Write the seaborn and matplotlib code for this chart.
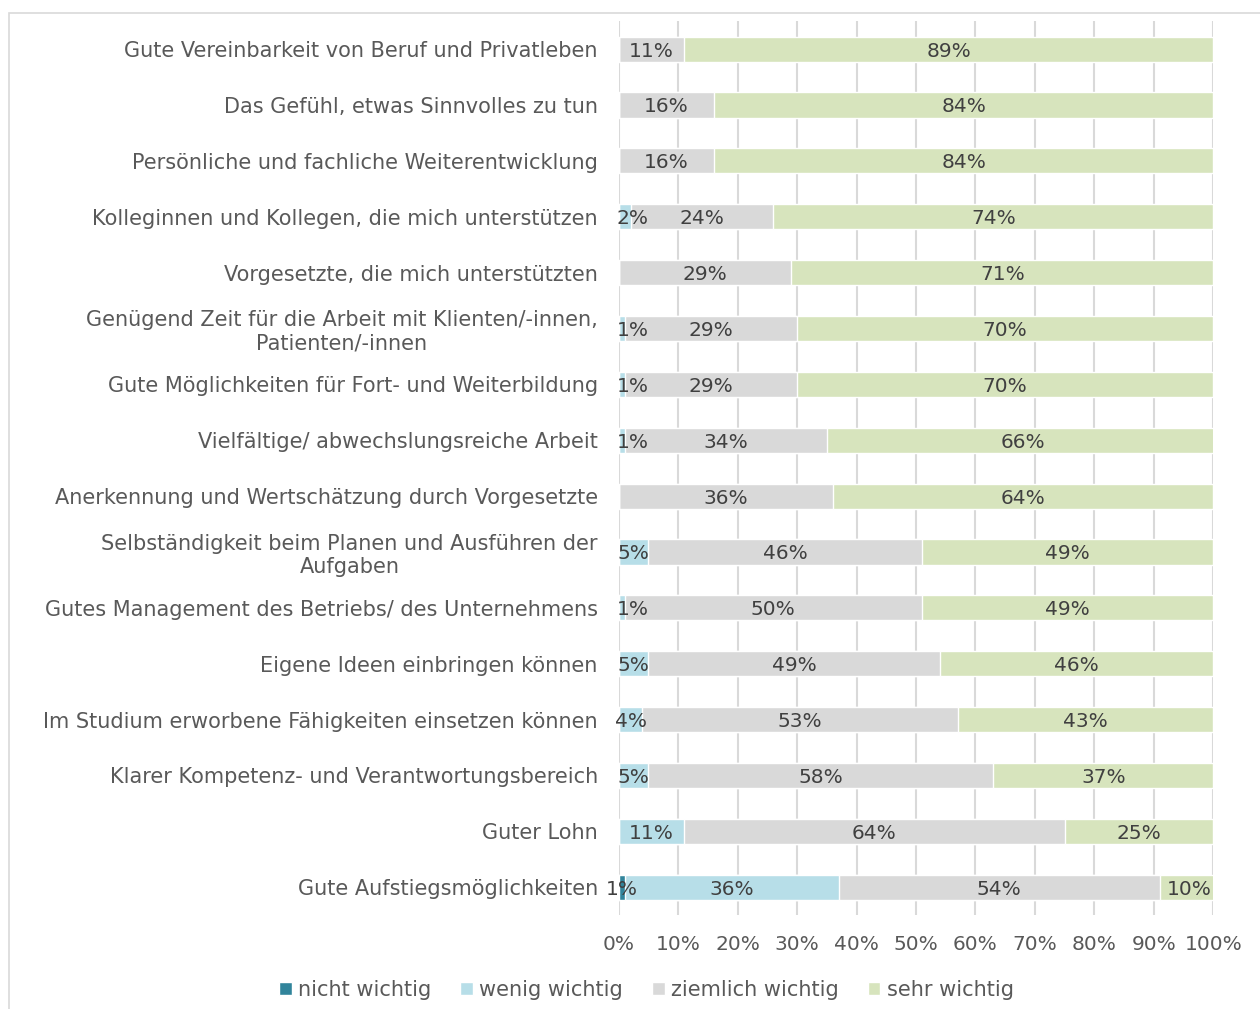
import pandas as pd
import matplotlib.pyplot as plt
import seaborn as sns
from matplotlib.patches import Rectangle

# Werte in Prozent, von oben nach unten
items = [
    "Gute Vereinbarkeit von Beruf und Privatleben",
    "Das Gefühl, etwas Sinnvolles zu tun",
    "Persönliche und fachliche Weiterentwicklung",
    "Kolleginnen und Kollegen, die mich unterstützen",
    "Vorgesetzte, die mich unterstützten",
    "Genügend Zeit für die Arbeit mit Klienten/-innen,\nPatienten/-innen",
    "Gute Möglichkeiten für Fort- und Weiterbildung",
    "Vielfältige/ abwechslungsreiche Arbeit",
    "Anerkennung und Wertschätzung durch Vorgesetzte",
    "Selbständigkeit beim Planen und Ausführen der\nAufgaben",
    "Gutes Management des Betriebs/ des Unternehmens",
    "Eigene Ideen einbringen können",
    "Im Studium erworbene Fähigkeiten einsetzen können",
    "Klarer Kompetenz- und Verantwortungsbereich",
    "Guter Lohn",
    "Gute Aufstiegsmöglichkeiten",
]
nicht_wichtig = [0, 0, 0, 0, 0, 0, 0, 0, 0, 0, 0, 0, 0, 0, 0, 1]
wenig_wichtig = [0, 0, 0, 2, 0, 1, 1, 1, 0, 5, 1, 5, 4, 5, 11, 36]
ziemlich_wichtig = [11, 16, 16, 24, 29, 29, 29, 34, 36, 46, 50, 49, 53, 58, 64, 54]
sehr_wichtig = [89, 84, 84, 74, 71, 70, 70, 66, 64, 49, 49, 46, 43, 37, 25, 10]

series = ["nicht wichtig", "wenig wichtig", "ziemlich wichtig", "sehr wichtig"]
colors = ["#31849B", "#B7DEE8", "#D9D9D9", "#D7E4BD"]
text_col = "#595959"

df = pd.DataFrame({
    "item": items,
    "nicht wichtig": nicht_wichtig,
    "wenig wichtig": wenig_wichtig,
    "ziemlich wichtig": ziemlich_wichtig,
    "sehr wichtig": sehr_wichtig,
})
cum = df[series].cumsum(axis=1)

sns.set_theme(style="white")
plt.rcParams["font.family"] = ["DejaVu Sans"]
fs = 15

fig = plt.figure(figsize=(12.6, 10.09), dpi=100)
ax = fig.add_axes([0.491, 0.093, 0.472, 0.886])

# gestapelte Balken: kumulierte Summen von hinten nach vorne zeichnen
for s, c in reversed(list(zip(series, colors))):
    sns.barplot(data=cum.assign(item=items), x=s, y=items, orient="h",
                color=c, width=0.45, saturation=1, ax=ax, label=s)

# Beschriftung der Segmente (sehr schmale Segmente: linksbündig an der Achse)
for i in range(len(items)):
    left = 0
    for s in series:
        v = df.loc[i, s]
        if v > 0:
            if s == "wenig wichtig" and v <= 2 and left == 0:
                ax.text(-0.3, i, f"{v}%", ha="left", va="center_baseline",
                        fontsize=fs - 0.5, color="#404040")
            else:
                ax.text(left + v / 2, i, f"{v}%", ha="center", va="center_baseline",
                        fontsize=fs - 0.5, color="#404040")
        left += v

ax.set_xlim(0, 100)
ax.set_ylim(15.5, -0.5)
ax.set_xticks(range(0, 101, 10))
ax.set_xticklabels([f"{t}%" for t in range(0, 101, 10)])
ax.set_xlabel("")
ax.set_ylabel("")
ax.grid(axis="x", color="#D9D9D9", linewidth=1.5)
ax.set_axisbelow(True)
for sp in ax.spines.values():
    sp.set_visible(False)
ax.tick_params(axis="y", length=0, pad=15, labelsize=fs, labelcolor=text_col)
ax.tick_params(axis="x", length=0, pad=14, labelsize=fs - 0.5, labelcolor=text_col)
for lab in ax.get_yticklabels():
    lab.set_multialignment("center")

handles, labels = ax.get_legend_handles_labels()
order = [labels.index(s) for s in series]
ax.legend([handles[k] for k in order], series, loc="center",
          bbox_to_anchor=(0.513, 0.019), bbox_transform=fig.transFigure,
          ncol=4, frameon=False, fontsize=fs, labelcolor=text_col,
          handlelength=0.6, handleheight=0.6, handletextpad=0.3, columnspacing=1.4)

fig.patches.append(Rectangle((0.0072, -0.05), 1.0, 1.037, transform=fig.transFigure,
                             fill=False, edgecolor="#D9D9D9", linewidth=1.2))

fig.savefig("out.png", dpi=100)
